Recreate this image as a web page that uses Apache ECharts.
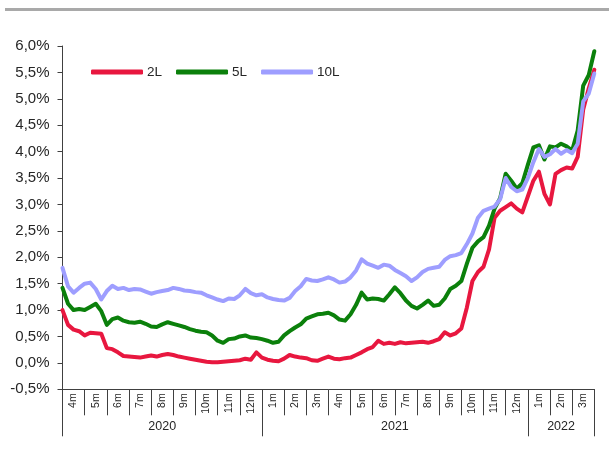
<!DOCTYPE html>
<html><head><meta charset="utf-8">
<script src="https://cdn.jsdelivr.net/npm/echarts@6/dist/echarts.min.js"></script>
<style>html,body{margin:0;padding:0;background:#fff}#c{width:609px;height:458px}</style>
</head><body><div id="c"></div>
<script>
// Month categories (Apr 2020 .. Mar 2022)
const monthLabels = ['4m','5m','6m','7m','8m','9m','10m','11m','12m',
  '1m','2m','3m','4m','5m','6m','7m','8m','9m','10m','11m','12m',
  '1m','2m','3m'];
const years = ['2020','2021','2022'];
const yearMonthCounts = [9, 12, 3];
const seriesNames = ['2L','5L','10L'];

// Yields (%) read at quarter-month steps, 97 points from start of Apr 2020 to end of Mar 2022
const yield2L = [
  1.00,0.72,0.63,0.60, 0.52,0.57,0.56,0.55, 0.28,0.26,0.20,0.13, 0.12,0.11,0.10,0.12,
  0.14,0.12,0.15,0.17, 0.15,0.12,0.10,0.08, 0.06,0.04,0.02,0.01, 0.01,0.02,0.03,0.04,
  0.05,0.08,0.06,0.20, 0.10,0.06,0.04,0.03, 0.08,0.15,0.12,0.10, 0.09,0.05,0.04,0.08,
  0.12,0.08,0.07,0.09, 0.10,0.15,0.20,0.26, 0.30,0.42,0.36,0.38, 0.36,0.39,0.37,0.38,
  0.39,0.40,0.38,0.41, 0.45,0.58,0.52,0.56, 0.65,1.05,1.55,1.72, 1.82,2.15,2.75,2.88,
  2.95,3.02,2.92,2.85, 3.15,3.45,3.62,3.20, 3.00,3.58,3.65,3.70, 3.68,3.90,4.80,5.20,
  5.55
];
const yield5L = [
  1.42,1.12,1.00,1.02, 1.00,1.06,1.12,0.98, 0.72,0.83,0.86,0.80, 0.77,0.76,0.78,0.74,
  0.69,0.68,0.73,0.77, 0.74,0.71,0.68,0.64, 0.61,0.59,0.58,0.52, 0.42,0.38,0.45,0.46,
  0.50,0.52,0.48,0.47, 0.45,0.42,0.38,0.40, 0.52,0.60,0.67,0.73, 0.84,0.88,0.92,0.93,
  0.95,0.90,0.82,0.80, 0.92,1.10,1.33,1.20, 1.22,1.21,1.18,1.30, 1.43,1.32,1.18,1.08,
  1.03,1.10,1.18,1.08, 1.10,1.22,1.40,1.46, 1.55,1.88,2.18,2.30, 2.38,2.60,2.92,3.12,
  3.58,3.45,3.30,3.40, 3.75,4.08,4.12,3.85, 4.10,4.08,4.15,4.10, 4.02,4.40,5.25,5.45,
  5.90
];
const yield10L = [
  1.80,1.45,1.33,1.42, 1.50,1.52,1.40,1.20, 1.36,1.46,1.40,1.42, 1.38,1.40,1.39,1.35,
  1.31,1.34,1.36,1.38, 1.42,1.40,1.37,1.36, 1.34,1.33,1.28,1.24, 1.20,1.17,1.22,1.21,
  1.28,1.40,1.32,1.28, 1.30,1.24,1.21,1.19, 1.18,1.23,1.36,1.45, 1.59,1.56,1.55,1.58,
  1.62,1.58,1.52,1.54, 1.62,1.75,1.96,1.88, 1.84,1.80,1.86,1.84, 1.76,1.70,1.64,1.55,
  1.62,1.72,1.78,1.80, 1.82,1.95,2.02,2.04, 2.08,2.25,2.45,2.75, 2.88,2.92,2.96,3.10,
  3.50,3.33,3.25,3.28, 3.50,3.80,4.05,3.90, 3.95,4.05,3.96,4.03, 3.97,4.15,4.95,5.10,
  5.48
];

// period categories (quarter-month steps), built from the month list
const periods = [];
let yi = 0, inYear = 0;
monthLabels.forEach(function (m) {
  for (let q = 1; q <= 4; q++) periods.push(years[yi] + '-' + m + '-' + q);
  inYear++;
  if (inYear >= yearMonthCounts[yi]) { yi++; inYear = 0; }
});
periods.push('end');

// year boundaries & centers (in month units)
const yearStarts = [];
const yearCenters = [];
let acc = 0;
yearMonthCounts.forEach(function (n) { yearStarts.push(acc); yearCenters.push(acc + n / 2); acc += n; });

const FONT = 'Liberation Sans, Arial, sans-serif';
const AXIS_COLOR = '#404040';
const colors = ['#E8173F', '#0B800B', '#9E9EFF'];

const chart = echarts.init(document.getElementById('c'), null, { renderer: 'canvas' });
chart.setOption({
  animation: false,
  backgroundColor: '#fff',
  textStyle: { fontFamily: FONT },
  graphic: [{
    type: 'rect', left: 5, top: 8,
    shape: { width: 604, height: 3 },
    style: { fill: '#a9a9a9' }
  }],
  grid: { left: 62.5, right: 14.7, top: 46, bottom: 68.7, containLabel: false },
  legend: {
    data: seriesNames,
    left: 86, top: 60,
    icon: 'roundRect',
    itemWidth: 52, itemHeight: 5,
    itemGap: 14,
    textStyle: { fontSize: 13.5, color: '#262626', fontFamily: FONT, padding: [0, 0, 0, -1] }
  },
  xAxis: [
    { type: 'category', data: periods, boundaryGap: false, show: false },
    {
      type: 'category', data: monthLabels, boundaryGap: true, position: 'bottom',
      axisLine: { show: true, onZero: false, lineStyle: { color: AXIS_COLOR, width: 1 } },
      axisTick: { show: true, interval: 0, length: 26, lineStyle: { color: AXIS_COLOR } },
      axisLabel: { interval: 0, rotate: 90, margin: 4, fontSize: 10.5, color: '#262626', fontFamily: FONT },
      splitLine: { show: false }
    },
    {
      type: 'category', data: monthLabels, boundaryGap: true, position: 'bottom',
      axisLine: { show: false, onZero: false },
      axisTick: { show: true, length: 47, lineStyle: { color: AXIS_COLOR },
        interval: function (idx) { return yearStarts.indexOf(idx) >= 0; } },
      axisLabel: { show: false },
      splitLine: { show: false }
    },
    {
      type: 'value', min: 0, max: acc, interval: 0.5, position: 'bottom',
      axisLine: { show: false, onZero: false },
      axisTick: { show: false },
      splitLine: { show: false },
      axisLabel: {
        margin: 31, fontSize: 12.5, color: '#262626', fontFamily: FONT,
        showMinLabel: true, showMaxLabel: true,
        formatter: function (v) {
          for (let k = 0; k < yearCenters.length; k++) {
            if (Math.abs(v - yearCenters[k]) < 1e-6) return years[k];
          }
          return '';
        }
      }
    }
  ],
  yAxis: {
    type: 'value', min: -0.5, max: 6, interval: 0.5,
    axisLine: { show: true, lineStyle: { color: AXIS_COLOR, width: 1 } },
    axisTick: { show: true, inside: false, length: 5, lineStyle: { color: AXIS_COLOR } },
    splitLine: { show: false },
    axisLabel: {
      margin: 13, fontSize: 15, color: '#262626', fontFamily: FONT,
      formatter: function (v) { return v.toFixed(1).replace('.', ',') + '%'; }
    }
  },
  series: [yield2L, yield5L, yield10L].map(function (d, k) {
    return {
      name: seriesNames[k], type: 'line', data: d,
      xAxisIndex: 0, yAxisIndex: 0,
      showSymbol: false, symbol: 'none',
      lineStyle: { width: 4, color: colors[k], join: 'round', cap: 'round' },
      itemStyle: { color: colors[k] },
      z: 2 + k
    };
  })
});
</script></body></html>
